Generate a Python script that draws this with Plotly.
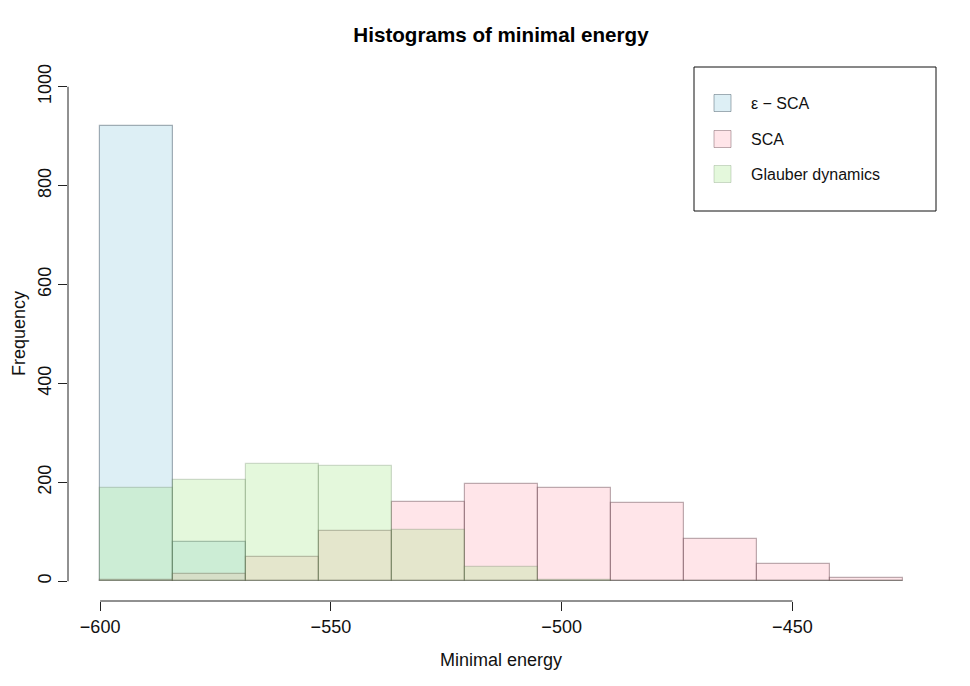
import plotly.graph_objects as go

# Bin edges of the minimal-energy histograms (shared breaks)
bin_edges = [-600.0, -584.18, -568.36, -552.55, -536.73, -520.91,
             -505.09, -489.27, -473.45, -457.64, -441.82, -426.0]

# Counts per bin
eps_sca_counts = [921, 79, 0, 0, 0, 0, 0, 0, 0, 0, 0]
sca_counts = [3, 15, 50, 101, 161, 197, 189, 158, 85, 35, 6]
glauber_counts = [189, 205, 237, 234, 104, 28, 3, 0, 0, 0, 0]

series_names = ["ε − SCA", "SCA", "Glauber dynamics"]
x_ticks = [-600, -550, -500, -450]
y_ticks = [0, 200, 400, 600, 800, 1000]

FONT = "Liberation Sans, Arial, Helvetica, sans-serif"

fills = ["rgba(173,216,230,0.42)", "rgba(255,192,203,0.42)", "rgba(165,232,138,0.30)"]
borders = ["rgba(60,80,95,0.45)", "rgba(90,55,65,0.40)", "rgba(80,110,70,0.25)"]

centers = [(bin_edges[i] + bin_edges[i + 1]) / 2 for i in range(len(bin_edges) - 1)]
widths = [bin_edges[i + 1] - bin_edges[i] for i in range(len(bin_edges) - 1)]

fig = go.Figure()
for name, counts, fc, bc in zip(series_names,
                                [eps_sca_counts, sca_counts, glauber_counts],
                                fills, borders):
    fig.add_trace(go.Bar(x=centers, y=counts, width=widths, name=name,
                         marker=dict(color=fc, line=dict(color=bc, width=1.2)),
                         showlegend=False))

# the page body adds an 8px margin, so the figure is 8px smaller and all
# positions (given in window pixels) are shifted by OFF
OFF = 8
FW, FH = 970 - OFF, 686 - OFF
L, R, T, B = 68 - OFF, 935 - OFF, 67 - OFF, 601 - OFF
W, H = R - L, B - T

def px(xp):
    return (xp - OFF - L) / W

def py(yp):
    return (B - (yp - OFF)) / H

shapes = [
    # R style detached axes
    dict(type="line", xref="x", yref="paper", x0=x_ticks[0], x1=x_ticks[-1], y0=0, y1=0,
         line=dict(color="#222", width=1)),
    dict(type="line", xref="paper", yref="y", x0=0, x1=0, y0=y_ticks[0], y1=y_ticks[-1],
         line=dict(color="#222", width=1)),
    # legend box
    dict(type="rect", xref="paper", yref="paper", x0=px(694), x1=px(936), y0=py(211), y1=py(67),
         line=dict(color="#111", width=1), fillcolor="rgba(255,255,255,0)"),
]
annotations = []
legend_rows = [103, 139, 174]
for name, fc, bc, yr in zip(series_names, fills, borders, legend_rows):
    shapes.append(dict(type="rect", xref="paper", yref="paper",
                       x0=px(714), x1=px(731), y0=py(yr + 8.5), y1=py(yr - 8.5),
                       fillcolor=fc, line=dict(color=bc, width=1)))
    annotations.append(dict(text=name, xref="paper", yref="paper", x=px(749), y=py(yr),
                            xanchor="left", yanchor="middle", showarrow=False,
                            font=dict(family=FONT, size=16, color="#111")))

annotations.append(dict(text="Minimal energy", xref="paper", yref="paper",
                        x=px(501), y=py(660), xanchor="center", yanchor="middle",
                        showarrow=False, font=dict(family=FONT, size=18, color="#111")))
annotations.append(dict(text="Frequency", xref="paper", yref="paper",
                        x=px(19), y=py(334), xanchor="center", yanchor="middle",
                        textangle=-90, showarrow=False,
                        font=dict(family=FONT, size=18, color="#111")))

fig.update_layout(
    width=FW, height=FH,
    margin=dict(l=L, r=FW - R, t=T, b=FH - B, pad=0),
    paper_bgcolor="white", plot_bgcolor="white",
    barmode="overlay", bargap=0,
    font=dict(family=FONT, size=18, color="#111"),
    title=dict(text="<b>Histograms of minimal energy</b>", x=px(501), xref="paper",
               xanchor="center", y=1 - (35 - OFF) / FH, yanchor="middle",
               font=dict(family=FONT, size=20.6, color="#000")),
    xaxis=dict(range=[-606.96, -419.1], showgrid=False, zeroline=False, showline=False,
               tickmode="array", tickvals=x_ticks, ticks="outside", ticklen=9,
               tickcolor="#222", tickwidth=1, tickfont=dict(size=18, color="#111")),
    yaxis=dict(range=[-40, 1040], showgrid=False, zeroline=False, showline=False,
               tickmode="array", tickvals=y_ticks, ticks="outside", ticklen=9,
               tickcolor="#222", tickwidth=1, tickangle=-90,
               tickfont=dict(size=18, color="#111")),
    shapes=shapes, annotations=annotations,
)

fig.write_html("out.html")
